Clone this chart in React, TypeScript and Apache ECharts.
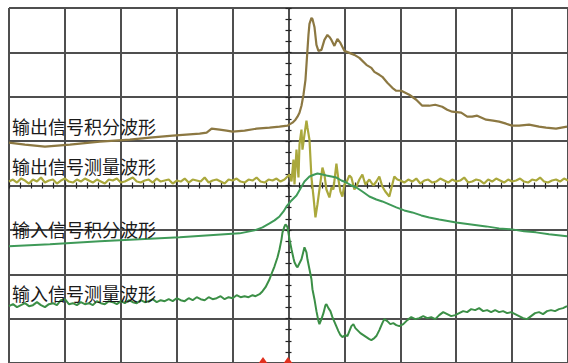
import React, { useEffect, useRef } from "react";
import * as echarts from "echarts";

// Oscilloscope capture: time axis in samples (−280…280), amplitude in counts (−178…178).
// One horizontal division = 56 samples, one vertical division = 44.5 counts.

const xTickStep = 56;
const yTickStep = 44.5;

const seriesNames = ["输出信号积分波形", "输出信号测量波形", "输入信号积分波形", "输入信号测量波形"];

// Output signal, integrated
const outIntegral: [number, number][] = [
  [-280, 43], [-264, 41], [-244, 39], [-219, 41], [-189, 44], [-159, 46], [-139, 48], [-116, 50],
  [-89, 52], [-82, 53], [-77, 57], [-69, 56], [-62, 55], [-56, 54], [-44, 55], [-32, 57], [-19, 58],
  [-9, 59], [-1, 60], [4, 63], [7, 66], [9, 69], [11, 73], [13, 80], [15, 91], [17, 106], [18, 121],
  [19, 136], [20, 151], [21, 162], [23, 168], [24, 167], [26, 159], [28, 141], [30, 135], [33, 136],
  [36, 146], [39, 151], [41, 149], [43, 146], [46, 140], [49, 147], [52, 143], [56, 135], [61, 133],
  [66, 131], [71, 128], [78, 121], [83, 118], [86, 114], [91, 111], [94, 109], [99, 103], [104, 98],
  [108, 95], [113, 95], [117, 93], [121, 91], [128, 86], [134, 80], [141, 80], [147, 81], [154, 79],
  [159, 76], [164, 74], [173, 73], [179, 69], [184, 69], [189, 70], [198, 66], [205, 65], [211, 64],
  [218, 62], [224, 60], [231, 60], [241, 61], [251, 59], [258, 58], [268, 57], [279, 59],
];

// Output signal, measured
const outMeasured: [number, number][] = [
  [-280, 4], [-276, 6], [-272, 3], [-268, 7], [-264, 5], [-260, 2], [-256, 6], [-252, 4], [-248, 8], [-244, 3],
  [-240, 5], [-236, 6], [-232, 2], [-228, 5], [-224, 7], [-220, 4], [-216, 3], [-212, 6], [-208, 4], [-204, 7],
  [-200, 5], [-196, 3], [-192, 6], [-188, 4], [-184, 2], [-180, 6], [-176, 5], [-172, 7], [-168, 3], [-164, 4],
  [-160, 6], [-156, 8], [-152, 4], [-148, 3], [-144, 5], [-140, 6], [-136, 3], [-132, 7], [-128, 4], [-124, 5],
  [-120, 6], [-116, 2], [-112, 5], [-108, 4], [-104, 7], [-100, 3], [-96, 6], [-92, 5], [-88, 4], [-84, 8],
  [-80, 3], [-76, 5], [-72, 6], [-68, 4], [-64, 2], [-60, 6], [-56, 5], [-52, 7], [-48, 4], [-44, 3],
  [-40, 6], [-36, 5], [-32, 8], [-28, 4], [-24, 3], [-20, 6], [-16, 5], [-12, 7], [-8, 4], [-4, 6],
  [1, 11], [3, 4], [5, 26], [6, 1], [8, 36], [10, 8], [11, 41], [13, 56], [14, 36], [16, 51],
  [18, 65], [19, 58], [21, 46], [23, 8], [25, -11], [27, -32], [29, -19], [31, -4], [34, 18], [36, 11],
  [38, -4], [41, -12], [43, -2], [45, -4], [48, 22], [50, 6], [52, -6], [54, -11], [56, 1], [58, 3],
  [61, 10], [63, 8], [66, -4], [68, -1], [71, 6], [74, 11], [77, 1], [81, 6], [85, 0], [88, 4],
  [91, 9], [94, -1], [97, -6], [101, -11], [104, 1], [106, 9], [109, 6],
  [112, 5], [116, 3], [120, 6], [124, 4], [128, 7], [132, 2], [136, 5], [140, 6], [144, 3], [148, 4],
  [152, 7], [156, 5], [160, 3], [164, 6], [168, 4], [172, 5], [176, 8], [180, 3], [184, 4], [188, 6],
  [192, 5], [196, 2], [200, 6], [204, 4], [208, 7], [212, 5], [216, 3], [220, 6], [224, 4], [228, 5],
  [232, 7], [236, 4], [240, 3], [244, 6], [248, 5], [252, 8], [256, 4], [260, 3], [264, 5], [268, 6],
  [272, 4], [276, 7], [280, 5],
];

// Input signal, integrated
const inIntegral: [number, number][] = [
  [-280, -61], [-239, -59], [-189, -56], [-149, -54], [-109, -52], [-79, -50], [-49, -48], [-34, -45],
  [-26, -42], [-19, -38], [-14, -35], [-9, -31], [-5, -26], [-2, -21], [3, -15], [8, -10], [12, -3],
  [16, 4], [21, 9], [26, 11], [29, 12], [34, 11], [38, 10], [43, 9], [48, 8], [53, 5], [58, 3],
  [63, 0], [68, -2], [74, -6], [81, -11], [88, -14], [94, -16], [101, -19], [108, -22], [116, -25],
  [124, -27], [133, -30], [141, -32], [151, -34], [168, -37], [183, -39], [198, -41], [211, -43],
  [224, -44], [236, -46], [248, -47], [261, -49], [279, -51],
];

// Input signal, measured
const inMeasured: [number, number][] = [
  [-280, -121], [-276, -119], [-272, -122], [-268, -120], [-264, -118], [-260, -121], [-256, -120],
  [-252, -117], [-248, -120], [-244, -122], [-240, -119], [-236, -118], [-232, -120], [-228, -115],
  [-224, -114], [-220, -119], [-216, -118], [-212, -120], [-208, -117], [-204, -119], [-200, -118],
  [-196, -120], [-192, -116], [-188, -118], [-184, -119], [-180, -116], [-176, -117], [-172, -119],
  [-168, -116], [-164, -118], [-160, -115], [-156, -117], [-152, -118], [-148, -115], [-144, -117],
  [-140, -116], [-136, -114], [-132, -117], [-128, -115], [-124, -116], [-120, -114], [-116, -116],
  [-112, -113], [-108, -115], [-104, -116], [-100, -113], [-96, -115], [-92, -112], [-88, -114],
  [-84, -115], [-80, -112], [-76, -114], [-72, -113], [-68, -111], [-64, -114], [-60, -112],
  [-56, -113], [-52, -110], [-48, -112], [-44, -111], [-40, -112], [-36, -110], [-33, -111],
  [-29, -109], [-26, -106], [-23, -102], [-19, -94], [-16, -86], [-14, -81], [-11, -72], [-9, -64],
  [-7, -54], [-6, -47], [-4, -41], [-3, -39], [-2, -40], [-1, -42], [1, -54], [3, -64], [5, -73],
  [6, -77], [8, -81], [9, -82], [11, -78], [13, -74], [15, -66], [16, -62], [18, -67], [19, -74],
  [21, -84], [23, -94], [24, -104], [26, -114], [28, -126], [30, -136], [31, -139], [33, -134],
  [35, -128], [37, -120], [38, -119], [40, -123], [42, -126], [44, -132], [47, -139], [50, -146],
  [52, -150], [54, -152], [57, -150], [59, -151], [61, -146], [63, -141], [65, -139], [67, -143],
  [69, -145], [72, -148], [75, -150], [78, -152], [81, -154], [83, -155], [86, -153], [88, -151],
  [91, -145], [94, -138], [96, -134], [99, -136], [102, -139], [105, -138], [108, -140], [111, -141],
  [115, -139], [119, -135], [123, -132], [127, -134], [131, -133], [135, -131], [139, -133],
  [143, -132], [147, -134], [151, -130], [155, -127], [159, -129], [163, -131], [167, -130],
  [171, -128], [175, -126], [179, -127], [183, -124], [187, -125], [191, -123], [195, -126],
  [199, -125], [203, -127], [207, -125], [211, -127], [215, -126], [219, -128], [223, -127],
  [227, -129], [231, -131], [235, -133], [239, -134], [243, -131], [247, -128], [251, -127],
  [255, -129], [259, -126], [263, -125], [267, -126], [271, -124], [275, -123], [279, -121],
];

// Caption rows (pixel top of each trace caption)
const labelTops = [117, 157, 220, 284];

const gridColor = "#4f4f4f";

function makeXAxis(position: "bottom" | "top", withGrid: boolean) {
  return {
    type: "value",
    position,
    min: -280,
    max: 280,
    interval: xTickStep,
    axisLine: { show: true, onZero: true, lineStyle: { color: gridColor, width: 2 } },
    axisTick: { show: true, length: 3, lineStyle: { color: "#222", width: 1.2 } },
    minorTick: { show: true, splitNumber: 5, length: 3, lineStyle: { color: "#222", width: 1.2 } },
    axisLabel: { show: false },
    splitLine: { show: withGrid, lineStyle: { color: gridColor, width: 2 } },
  };
}

function makeYAxis(position: "left" | "right", withGrid: boolean) {
  return {
    type: "value",
    position,
    min: -178,
    max: 178,
    interval: yTickStep,
    axisLine: { show: true, onZero: true, lineStyle: { color: gridColor, width: 2 } },
    axisTick: { show: true, length: 3, lineStyle: { color: "#222", width: 1.2 } },
    minorTick: { show: true, splitNumber: 4, length: 3, lineStyle: { color: "#222", width: 1.2 } },
    axisLabel: { show: false },
    splitLine: { show: withGrid, lineStyle: { color: gridColor, width: 2 } },
  };
}

function trace(name: string, data: [number, number][], color: string, width: number) {
  return {
    name,
    type: "line",
    data,
    showSymbol: false,
    symbol: "none",
    smooth: false,
    lineStyle: { color, width },
    xAxisIndex: 0,
    yAxisIndex: 0,
    z: 5,
  };
}

export default function App() {
  const ref = useRef<HTMLDivElement>(null);

  useEffect(() => {
    if (!ref.current) return;
    const chart = echarts.init(ref.current, undefined, { renderer: "svg" });

    const captions = seriesNames.map((text, i) => ({
      type: "text",
      left: 12,
      top: labelTops[i],
      z: 10,
      style: {
        text,
        fill: "#1a1a1a",
        font: '18px "Noto Sans CJK SC", sans-serif',
      },
    }));

    const markers = [263, 288].map((x) => ({
      type: "polygon",
      z: 10,
      shape: { points: [[x, 357], [x - 5, 364], [x + 5, 364]] },
      style: { fill: "#e0301e" },
    }));

    chart.setOption({
      animation: false,
      backgroundColor: "#ffffff",
      grid: { left: 9, top: 8, width: 560, height: 356 },
      xAxis: [makeXAxis("bottom", true), makeXAxis("top", false)],
      yAxis: [makeYAxis("left", true), makeYAxis("right", false)],
      series: [
        trace(seriesNames[0], outIntegral, "#8c7842", 2.2),
        trace(seriesNames[1], outMeasured, "#aaa83c", 2.2),
        trace(seriesNames[2], inIntegral, "#3f9a58", 2),
        trace(seriesNames[3], inMeasured, "#3b8f46", 2),
      ],
      graphic: [...captions, ...markers],
    });

    return () => chart.dispose();
  }, []);

  return (
    <div
      ref={ref}
      style={{ position: "fixed", left: 0, top: 0, width: 568, height: 363, background: "#fff" }}
    />
  );
}
